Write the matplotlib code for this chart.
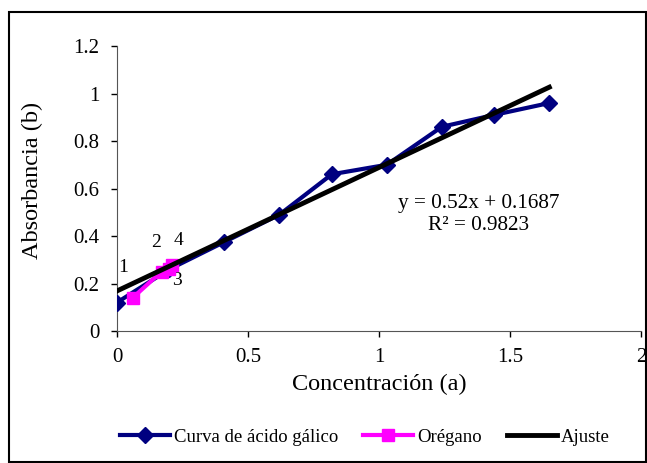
import matplotlib.pyplot as plt
from matplotlib.patches import Rectangle

plt.rcParams['font.family'] = ['Liberation Serif', 'DejaVu Serif']

# curva de calibracion (acido galico)
conc = [0, 0.2, 0.41, 0.62, 0.82, 1.03, 1.24, 1.44, 1.65]
absorb = [0.12, 0.26, 0.375, 0.49, 0.66, 0.70, 0.86, 0.91, 0.96]

# muestras de oregano
oreg_x = [0.06, 0.17, 0.2, 0.21]
oreg_y = [0.14, 0.25, 0.26, 0.28]
oreg_lab = ['1', '2', '3', '4']
lab_off = [(-7, 22), (-4, 21), (5.5, -8), (5, 17.5)]

# ajuste lineal
slope = 0.52
intercept = 0.1687
r2 = 0.9823

fig = plt.figure(figsize=(6.47, 4.63), dpi=100)
ax = fig.add_axes([0.1808, 0.2851, 0.81, 0.6155])

ax.plot(conc, absorb, color='#000080', lw=3, marker='D', ms=8, label='Curva de ácido gálico', zorder=3)
ax.plot(oreg_x, oreg_y, color='#FF00FF', lw=3, marker='s', ms=9, label='Orégano', zorder=4)
fx = [conc[0], conc[-1]]
fy = [slope * v + intercept for v in fx]
ax.plot(fx, fy, color='black', lw=3.5, label='Ajuste', zorder=5)

for x, y, t, off in zip(oreg_x, oreg_y, oreg_lab, lab_off):
    ax.annotate(t, (x, y), xytext=off, textcoords='offset points', ha='center', va='center', fontsize=14)

ax.text(0.69, 0.41, 'y = %.2fx + %.4f\nR² = %.4f' % (slope, intercept, r2),
        transform=ax.transAxes, ha='center', va='center', fontsize=15.3, linespacing=1.2)

ax.set_xlim(0, 2)
ax.set_ylim(0, 1.2)
ax.set_xticks([0, 0.5, 1, 1.5, 2])
ax.set_xticklabels(['0', '0.5', '1', '1.5', '2'])
ax.set_yticks([0, 0.2, 0.4, 0.6, 0.8, 1, 1.2])
ax.set_yticklabels(['0', '0.2', '0.4', '0.6', '0.8', '1', '1.2'])
ax.tick_params(labelsize=15, length=4.5, width=1, direction='out', pad=8)
ax.spines['top'].set_visible(False)
ax.spines['right'].set_visible(False)
ax.spines['left'].set_color('#555555')
ax.spines['bottom'].set_color('#555555')
ax.set_xlabel('Concentración (a)', fontsize=17.5, labelpad=5)
ax.set_ylabel('Absorbancia (b)', fontsize=17.5)
ax.yaxis.set_label_coords(-0.141, 0.53)

fig.legend(loc='center', bbox_to_anchor=(0.564, 0.056), ncol=3, frameon=False, fontsize=13.5,
           handlelength=2.67, handletextpad=0.2, columnspacing=1.33)

fig.patches.append(Rectangle((9 / 647, 1 / 463), 637 / 647, 450 / 463, transform=fig.transFigure,
                             fill=False, edgecolor='black', lw=1.5))

fig.savefig('out.png', dpi=100)
